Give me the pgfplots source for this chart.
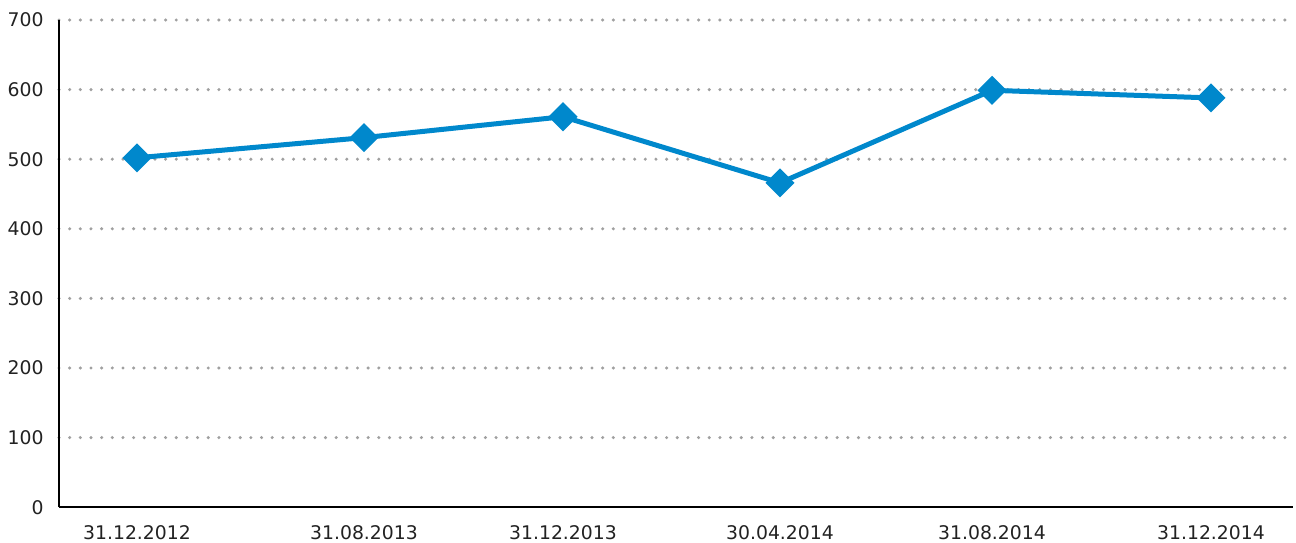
\documentclass[border=0pt]{standalone}
\usepackage{fontspec}
\setmainfont{DejaVu Sans}
\usepackage{pgfplots}
\pgfplotsset{compat=1.18}
\usetikzlibrary{calc}
\definecolor{linecol}{HTML}{0088CC}
\definecolor{gridcol}{HTML}{A0A0A0}
\definecolor{txt}{HTML}{222222}
\begin{document}
\begin{tikzpicture}
\begin{axis}[
  scale only axis,
  width=617pt, height=243.6pt,
  xmin=59, xmax=1293,
  ymin=0, ymax=700,
  ytick={100,200,...,700},
  extra y ticks={0},
  extra y tick style={grid=none},
  xtick={137,364,563,780,992,1211},
  xticklabels={31.12.2012,31.08.2013,31.12.2013,30.04.2014,31.08.2014,31.12.2014},
  axis x line=bottom, axis y line=left,
  axis line style={-, black, line width=1pt},
  major tick length=0pt,
  ymajorgrids,
  grid style={gridcol, line width=1.7pt, line cap=round, dash pattern=on 0pt off 5.33pt},
  /pgf/number format/assume math mode=true,
  tick label style={font=\fontsize{9.4pt}{11pt}\selectfont, text=txt, inner sep=0pt},
  yticklabel style={anchor=east, xshift=-7.5pt},
  xticklabel style={anchor=north, yshift=-9pt},
  clip=false,
]
\addplot[linecol, line width=2.5pt, mark=diamond*, mark size=5.5pt,
  mark options={fill=linecol, draw=none, xscale=1.333}]
  coordinates {(137,502) (364,531) (563,561) (780,466) (992,599) (1211,588)};
\coordinate (bl) at (rel axis cs:0,0);
\coordinate (tr) at (rel axis cs:1,1);
\end{axis}
\pgfresetboundingbox
\path[use as bounding box] ($(bl)+(-29.5pt,-17.85pt)$) rectangle ($(tr)+(1.5pt,10pt)$);
\end{tikzpicture}
\end{document}
